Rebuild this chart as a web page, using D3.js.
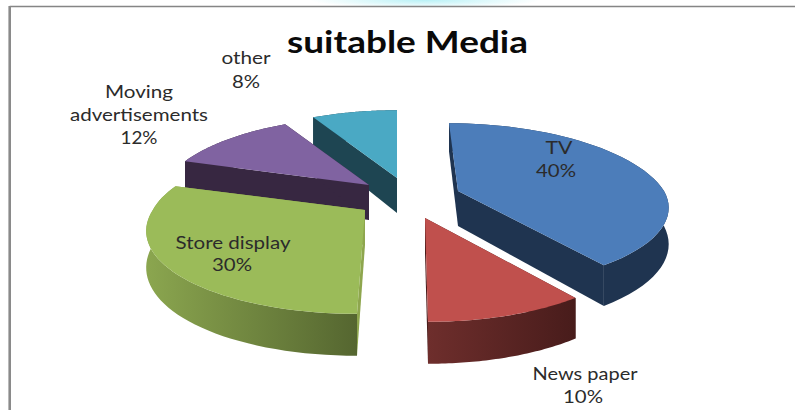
<!DOCTYPE html>
<html>
<head>
<meta charset="utf-8">
<script src="https://cdn.jsdelivr.net/npm/d3@7/dist/d3.min.js"></script>
<style>
  html, body { margin: 0; padding: 0; background: #fff; }
  svg { display: block; }
  text { font-family: Lato, "Open Sans", sans-serif; fill: #2b2b2b; }
</style>
</head>
<body>
<div id="chart"></div>
<script>
const categories = ["TV", "News paper", "Store display", "Moving advertisements", "other"];
const shares = [40, 10, 30, 12, 8];
const chartTitle = "suitable Media";

const width = 795, height = 410;
const faceColors = ["#4c7dba", "#c0504d", "#9bbb59", "#8063a1", "#4aa9c4"];
const cutColors = ["#1f3450", "#4a1d1c", "#8ea64e", "#372741", "#1e4552"];
const wallStops = [
  ["#1f3450", "#1f3450"],
  ["#6e2e2c", "#481c1b"],
  ["#8ba64f", "#556630"],
  ["#372741", "#372741"],
  ["#1e4552", "#1e4552"]
];
// Where each exploded wedge's apex sits on the page, plus small per-wedge
// adjustments to its spread, edge lean and front flattening.
const apexes = [
  { x: 458, y: 191, spread: 1.0, leanBack: -9, leanFront: 0, frontY: 0.93 },
  { x: 425, y: 218, spread: 1.015, leanBack: 0, leanFront: 3, frontY: 1 },
  { x: 365, y: 210, spread: 1.03, leanBack: 0, leanFront: -8, frontY: 1 },
  { x: 369, y: 185, spread: 1.0, leanBack: 0, leanFront: 0, frontY: 1 },
  { x: 397, y: 178, spread: 1.0, leanBack: 0, leanFront: 0, frontY: 1 }
];
// label lines: text, centre x, baseline y, drawn width
const labelBlocks = [
  { lines: [["TV", 559, 154, 27], ["40%", 556, 177, 40]] },
  { lines: [["News paper", 585, 380, 105], ["10%", 583, 403, 40]] },
  { lines: [["Store display", 233, 249, 115], ["30%", 232, 271, 40]] },
  { lines: [["Moving", 139, 98, 68], ["advertisements", 139, 121, 138], ["12%", 139, 144, 37]] },
  { lines: [["other", 246, 64, 49], ["8%", 246, 88, 28]] }
];

const radiusX = 206, radiusY = 82, perspective = 0.21, depth = 35;

// Map a polar position on the tilted pie plane to page coordinates.
function project(angle, r, apex) {
  const px = Math.sin(angle) * r;
  const pz = -Math.cos(angle) * r;
  const s = 1 / (1 - perspective * pz);
  const lean = pz < 0 ? apex.leanBack * -pz : apex.leanFront * pz;
  const yScale = pz > 0 ? apex.frontY : 1;
  return [apex.x + px * radiusX * apex.spread * s + lean, apex.y + pz * radiusY * s * yScale];
}
function dropAt(angle) {
  return depth * (1 - 0.2 * Math.cos(angle));
}

const svg = d3.select("#chart").append("svg").attr("width", width).attr("height", height);
const defs = svg.append("defs");

const glow = defs.append("radialGradient").attr("id", "topGlow");
glow.append("stop").attr("offset", "0%").attr("stop-color", "#b8f1f6");
glow.append("stop").attr("offset", "100%").attr("stop-color", "#ffffff");
svg.append("ellipse").attr("cx", 425).attr("cy", 0).attr("rx", 115).attr("ry", 8).attr("fill", "url(#topGlow)");

svg.append("path")
  .attr("d", `M${width} 6.5H9.7`)
  .attr("fill", "none").attr("stroke", "#858585").attr("stroke-width", 1.6);
svg.append("path")
  .attr("d", `M9.7 6V${height}`)
  .attr("fill", "none").attr("stroke", "#8a8a8a").attr("stroke-width", 2.6);

const pie = d3.pie().sort(null).value(d => d);
const wedges = pie(shares);
const line = d3.line();

// Painter's order: back wedges first.
const paintOrder = [4, 3, 2, 0, 1];
paintOrder.forEach(i => {
  const w = wedges[i], apex = apexes[i];
  const steps = d3.range(0, 49).map(k => w.startAngle + (w.endAngle - w.startAngle) * k / 48);
  const rim = steps.map(a => project(a, 1, apex));
  const rimLow = steps.map((a, k) => [rim[k][0], rim[k][1] + dropAt(a)]);
  const apexLow = [apex.x, apex.y + depth];

  const grad = defs.append("linearGradient")
    .attr("id", "wall" + i)
    .attr("gradientUnits", "userSpaceOnUse")
    .attr("x1", d3.min(rim, p => p[0])).attr("x2", d3.max(rim, p => p[0]))
    .attr("y1", 0).attr("y2", 0);
  grad.append("stop").attr("offset", "0%").attr("stop-color", wallStops[i][0]);
  grad.append("stop").attr("offset", "100%").attr("stop-color", wallStops[i][1]);

  const g = svg.append("g").attr("class", "wedge");
  // cut faces running from the apex to each end of the rim
  [[rim[0], rimLow[0]], [rim[48], rimLow[48]]].forEach(([top, low]) => {
    g.append("path")
      .attr("d", line([[apex.x, apex.y], top, low, apexLow]) + "Z")
      .attr("fill", cutColors[i]);
  });
  // outer curved wall
  g.append("path")
    .attr("d", line(rim.concat(rimLow.slice().reverse())) + "Z")
    .attr("fill", `url(#wall${i})`);
  // top face
  g.append("path")
    .attr("d", line([[apex.x, apex.y]].concat(rim)) + "Z")
    .attr("fill", faceColors[i]);
});

svg.append("text")
  .attr("x", 287).attr("y", 53)
  .attr("font-size", 31).attr("font-weight", 700)
  .attr("textLength", 241).attr("lengthAdjust", "spacingAndGlyphs")
  .style("fill", "#0a0a0a")
  .text(chartTitle);

const labelColumn = svg.append("g").attr("class", "labels");
labelBlocks.forEach(b => {
  b.lines.forEach(([t, x, y, w]) => {
    labelColumn.append("text")
      .attr("x", x - w / 2).attr("y", y)
      .attr("font-size", 17)
      .attr("textLength", w).attr("lengthAdjust", "spacingAndGlyphs")
      .text(t);
  });
});
</script>
</body>
</html>
